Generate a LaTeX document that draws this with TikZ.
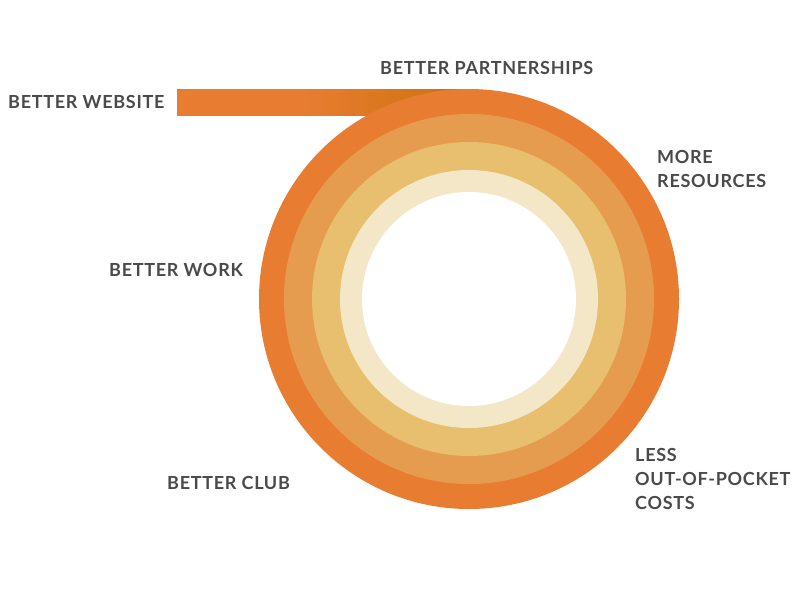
\documentclass[tikz,border=0pt]{standalone}
\usepackage{fontspec}
\setmainfont{Lato}[LetterSpace=4]
\definecolor{ringA}{HTML}{E87D32}
\definecolor{ringB}{HTML}{E59C4E}
\definecolor{ringC}{HTML}{E7BF6E}
\definecolor{ringD}{HTML}{F3E7C7}
\definecolor{bandDark}{HTML}{CF720F}
\definecolor{txt}{HTML}{4A4A4A}
\pgfdeclarehorizontalshading{bandshade}{100bp}{color(0bp)=(ringA); color(46bp)=(ringA); color(72bp)=(bandDark); color(100bp)=(bandDark)}
\begin{document}
\begin{tikzpicture}[x=1pt,y=-1pt,
  lbl/.style={text=txt,font=\fontsize{18}{24}\selectfont\bfseries,inner sep=0pt,align=left}]
\useasboundingbox (0,0) rectangle (800,600);
% band
\shade[shading=bandshade] (177,89) rectangle (470,115);
% rings
\coordinate (c) at (469,299);
\fill[ringA] (c) circle[radius=210];
\fill[ringB] (c) circle[radius=185];
\fill[ringC] (c) circle[radius=157];
\fill[ringD] (c) circle[radius=129];
\fill[white] (c) circle[radius=107];
% labels
\node[lbl,anchor=west] (web) at (8,102) {BETTER WEBSITE};
\node[lbl,anchor=west] (part) at (380,68) {BETTER PARTNERSHIPS};
\node[lbl,anchor=west] (res) at (657,169) {MORE\\RESOURCES};
\node[lbl,anchor=west] (work) at (109,270) {BETTER WORK};
\node[lbl,anchor=west] (club) at (167,483) {BETTER CLUB};
\node[lbl,anchor=west] (cost) at (635,479) {LESS\\OUT-OF-POCKET\\COSTS};
\end{tikzpicture}
\end{document}
